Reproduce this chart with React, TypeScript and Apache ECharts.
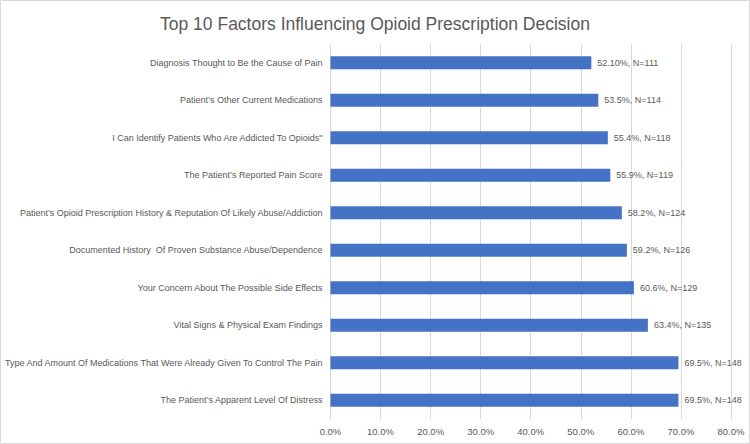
import React, { useEffect, useRef } from "react";
import * as echarts from "echarts";

const categories = [
  "Diagnosis Thought to Be the Cause of Pain",
  "Patient’s Other Current Medications",
  "I Can Identify Patients Who Are Addicted To Opioids\"",
  "The Patient’s Reported Pain Score",
  "Patient’s Opioid Prescription History & Reputation Of Likely Abuse/Addiction",
  "Documented History  Of Proven Substance Abuse/Dependence",
  "Your Concern About The Possible Side Effects",
  "Vital Signs & Physical Exam Findings",
  "Type And Amount Of Medications That Were Already Given To Control The Pain",
  "The Patient’s Apparent Level Of Distress",
];
const percents = [52.1, 53.5, 55.4, 55.9, 58.2, 59.2, 60.6, 63.4, 69.5, 69.5];
const valueLabels = [
  "52.10%, N=111",
  "53.5%, N=114",
  "55.4%, N=118",
  "55.9%, N=119",
  "58.2%, N=124",
  "59.2%, N=126",
  "60.6%, N=129",
  "63.4%, N=135",
  "69.5%, N=148",
  "69.5%, N=148",
];
const title = "Top 10 Factors Influencing Opioid Prescription Decision";

const FONT = "'Liberation Sans', sans-serif";

export default function App() {
  const ref = useRef<HTMLDivElement>(null);
  useEffect(() => {
    if (!ref.current) return;
    const chart = echarts.init(ref.current, null, { renderer: "svg" });
    chart.setOption({
      animation: false,
      backgroundColor: "#ffffff",
      title: {
        text: title,
        left: "center",
        top: 10,
        textStyle: { fontFamily: FONT, fontSize: 17.5, fontWeight: "normal", color: "#595959" },
      },
      graphic: [
        {
          type: "rect",
          shape: { x: 0.5, y: 0.5, width: 749, height: 443 },
          style: { fill: "none", stroke: "#d9d9d9", lineWidth: 1 },
          silent: true,
        },
      ],
      grid: { left: 330, right: 19, top: 44, bottom: 25, containLabel: false },
      xAxis: {
        type: "value",
        min: 0,
        max: 80,
        interval: 10,
        axisLine: { show: false },
        axisTick: { show: false },
        splitLine: { show: true, lineStyle: { color: "#d9d9d9", width: 1 } },
        axisLabel: {
          formatter: (v: number) => v.toFixed(1) + "%",
          color: "#595959",
          fontFamily: FONT,
          fontSize: 9.5,
          margin: 7,
        },
      },
      yAxis: {
        type: "category",
        data: categories,
        inverse: true,
        axisLine: { show: true, lineStyle: { color: "#d9d9d9" } },
        axisTick: { show: false },
        axisLabel: {
          color: "#595959",
          fontFamily: FONT,
          fontSize: 9,
          margin: 8,
        },
      },
      series: [
        {
          type: "bar",
          data: percents,
          barWidth: 13,
          itemStyle: { color: "#4472C4" },
          label: {
            show: true,
            position: "right",
            distance: 6,
            formatter: (p: any) => valueLabels[p.dataIndex],
            color: "#595959",
            fontFamily: FONT,
            fontSize: 9,
          },
        },
      ],
    });
    return () => chart.dispose();
  }, []);
  return (
    <div
      ref={ref}
      style={{ position: "absolute", left: 0, top: 0, width: 750, height: 444 }}
    />
  );
}
